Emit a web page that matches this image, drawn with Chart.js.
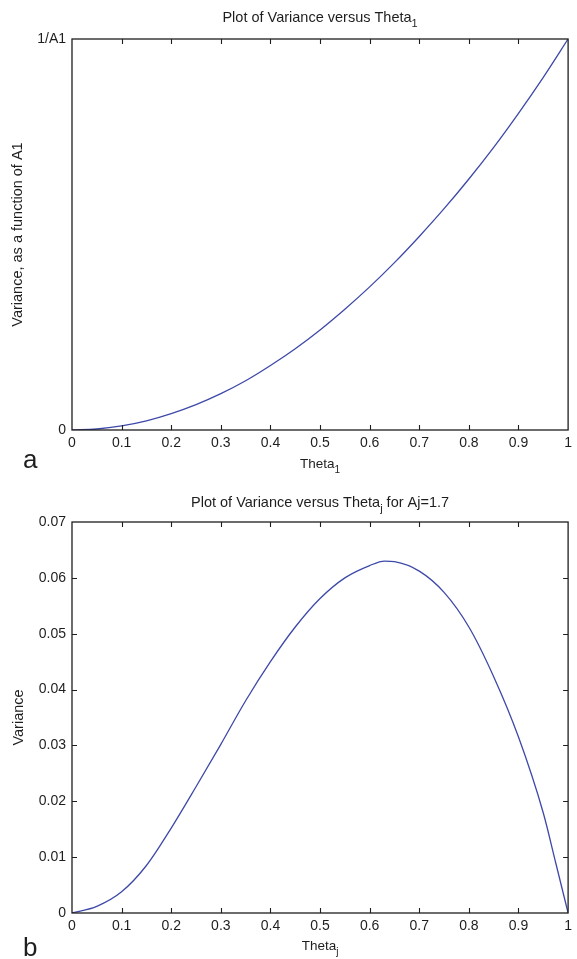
<!DOCTYPE html>
<html>
<head>
<meta charset="utf-8">
<script src="https://cdn.jsdelivr.net/npm/chart.js@4.4.1/dist/chart.umd.min.js"></script>
<style>
  html, body { margin: 0; padding: 0; background: #ffffff; }
  #wrap { position: relative; width: 577px; height: 959px; overflow: hidden; }
  #wa { position: absolute; left: 0; top: 0; width: 577px; height: 480px; }
  #wb { position: absolute; left: 0; top: 480px; width: 577px; height: 479px; }
</style>
</head>
<body>
<div id="wrap">
  <div id="wa"><canvas id="ca"></canvas></div>
  <div id="wb"><canvas id="cb"></canvas></div>
</div>
<script>
// ---------- data ----------
const thetaA = [0, 0.05, 0.1, 0.15, 0.2, 0.25, 0.3, 0.35, 0.4, 0.45, 0.5, 0.55, 0.6, 0.65, 0.7, 0.75, 0.8, 0.85, 0.9, 0.95, 1];
const varianceA = [0, 0.0025, 0.0105, 0.0235, 0.042, 0.065, 0.093, 0.126, 0.165, 0.208, 0.256, 0.309, 0.366, 0.428, 0.495, 0.566, 0.642, 0.723, 0.81, 0.902, 1];

const thetaB = [0, 0.05, 0.1, 0.15, 0.2, 0.25, 0.3, 0.35, 0.4, 0.45, 0.5, 0.55, 0.6, 0.63, 0.65, 0.7, 0.75, 0.8, 0.85, 0.9, 0.95, 0.975, 1];
const varianceB = [0, 0.0012, 0.0038, 0.0085, 0.0152, 0.0226, 0.0302, 0.0380, 0.0450, 0.0512, 0.0563, 0.0600, 0.0622, 0.0630, 0.0629, 0.0612, 0.0574, 0.0512, 0.0423, 0.0315, 0.0179, 0.0090, 0];

const xTickValues = [0, 0.1, 0.2, 0.3, 0.4, 0.5, 0.6, 0.7, 0.8, 0.9, 1];
const xTickLabels = ['0', '0.1', '0.2', '0.3', '0.4', '0.5', '0.6', '0.7', '0.8', '0.9', '1'];
const yTickValuesA = [0, 1];
const yTickLabelsA = ['0', '1/A1'];
const yTickValuesB = [0, 0.01, 0.02, 0.03, 0.04, 0.05, 0.06, 0.07];
const yTickLabelsB = ['0', '0.01', '0.02', '0.03', '0.04', '0.05', '0.06', '0.07'];

const titleA = [{ t: 'Plot of Variance versus Theta' }, { t: '1', sub: true }];
const titleB = [{ t: 'Plot of Variance versus Theta' }, { t: 'j', sub: true }, { t: ' for Aj=1.7' }];
const xLabelA = [{ t: 'Theta' }, { t: '1', sub: true }];
const xLabelB = [{ t: 'Theta' }, { t: 'j', sub: true }];
const yLabelA = 'Variance, as a function of A1';
const yLabelB = 'Variance';
const panelA = 'a';
const panelB = 'b';

// ---------- drawing helpers ----------
const FONT = '"Liberation Sans", Arial, Helvetica, sans-serif';
const INK = '#1e1e1e';
const LINE = '#3d48a8';

function drawRich(ctx, parts, cx, y, size) {
  const subSize = Math.round(size * 0.75);
  let w = 0;
  parts.forEach(p => {
    ctx.font = (p.sub ? subSize : size) + 'px ' + FONT;
    p.w = ctx.measureText(p.t).width;
    w += p.w;
  });
  let x = cx - w / 2;
  ctx.textAlign = 'left';
  ctx.textBaseline = 'alphabetic';
  parts.forEach(p => {
    ctx.font = (p.sub ? subSize : size) + 'px ' + FONT;
    ctx.fillText(p.t, x, y + (p.sub ? 5 : 0));
    x += p.w;
  });
}

const framePlugin = {
  id: 'frame',
  afterDraw(chart, args, o) {
    const { ctx, chartArea: a, scales } = chart;
    const x = scales.x, y = scales.y;
    ctx.save();
    // axis box
    ctx.strokeStyle = INK;
    ctx.lineWidth = 1.3;
    ctx.strokeRect(a.left, a.top, a.right - a.left, a.bottom - a.top);
    // inward tick marks
    ctx.lineWidth = 1.1;
    ctx.beginPath();
    x.ticks.forEach(t => {
      const px = Math.round(x.getPixelForValue(t.value)) + 0.5;
      if (px <= a.left + 2 || px >= a.right - 2) return;
      ctx.moveTo(px, a.bottom); ctx.lineTo(px, a.bottom - 5);
      ctx.moveTo(px, a.top); ctx.lineTo(px, a.top + 5);
    });
    if (o.yTicks) {
      y.ticks.forEach(t => {
        const py = Math.round(y.getPixelForValue(t.value)) + 0.5;
        if (py <= a.top + 2 || py >= a.bottom - 2) return;
        ctx.moveTo(a.left, py); ctx.lineTo(a.left + 5, py);
        ctx.moveTo(a.right, py); ctx.lineTo(a.right - 5, py);
      });
    }
    ctx.stroke();
    // texts
    ctx.fillStyle = INK;
    const cx = (a.left + a.right) / 2;
    drawRich(ctx, o.title, cx, o.titleY, 14.5);
    drawRich(ctx, o.xLabel, cx, o.xLabelY, 13.5);
    // y label
    ctx.save();
    ctx.translate(o.yLabelX, (a.top + a.bottom) / 2);
    ctx.rotate(-Math.PI / 2);
    ctx.font = '14.5px ' + FONT;
    ctx.textAlign = 'center';
    ctx.textBaseline = 'middle';
    ctx.fillText(o.yLabel, 0, 0);
    ctx.restore();
    // panel letter
    ctx.font = '26px ' + FONT;
    ctx.textAlign = 'left';
    ctx.textBaseline = 'alphabetic';
    ctx.fillText(o.panel, o.panelX, o.panelY);
    ctx.restore();
  }
};

function makeChart(canvasId, xs, ys, yVals, yLabels, padTop, xHeight, frameOpts) {
  const pts = xs.map((v, i) => ({ x: v, y: ys[i] }));
  return new Chart(document.getElementById(canvasId), {
    type: 'line',
    data: {
      datasets: [{
        data: pts,
        borderColor: LINE,
        borderWidth: 1.3,
        pointRadius: 0,
        fill: false,
        cubicInterpolationMode: 'monotone'
      }]
    },
    options: {
      responsive: true,
      maintainAspectRatio: false,
      animation: false,
      layout: { padding: { top: padTop, right: 6, left: 0, bottom: 0 } },
      plugins: {
        legend: { display: false },
        tooltip: { enabled: false },
        title: { display: false },
        frame: frameOpts
      },
      scales: {
        x: {
          type: 'linear',
          min: 0, max: 1,
          grid: { display: false, drawTicks: false },
          border: { display: false },
          afterBuildTicks: s => { s.ticks = xTickValues.map(v => ({ value: v })); },
          afterFit: s => { s.height = xHeight; },
          ticks: {
            autoSkip: false, maxRotation: 0, padding: 5,
            color: INK, font: { family: FONT, size: 14 },
            callback: (v, i) => xTickLabels[i]
          }
        },
        y: {
          type: 'linear',
          min: yVals[0], max: yVals[yVals.length - 1],
          grid: { display: false, drawTicks: false },
          border: { display: false },
          afterBuildTicks: s => { s.ticks = yVals.map(v => ({ value: v })); },
          afterFit: s => { s.width = 72; },
          ticks: {
            autoSkip: false, padding: 6,
            color: INK, font: { family: FONT, size: 14 },
            callback: (v, i) => yLabels[i]
          }
        }
      }
    },
    plugins: [framePlugin]
  });
}

makeChart('ca', thetaA, varianceA, yTickValuesA, yTickLabelsA, 39, 50, {
  title: titleA, titleY: 22, xLabel: xLabelA, xLabelY: 468,
  yLabel: yLabelA, yLabelX: 18, panel: panelA, panelX: 23, panelY: 468, yTicks: false
});
makeChart('cb', thetaB, varianceB, yTickValuesB, yTickLabelsB, 42, 46, {
  title: titleB, titleY: 27, xLabel: xLabelB, xLabelY: 470,
  yLabel: yLabelB, yLabelX: 19, panel: panelB, panelX: 23, panelY: 476, yTicks: true
});
</script>
</body>
</html>
